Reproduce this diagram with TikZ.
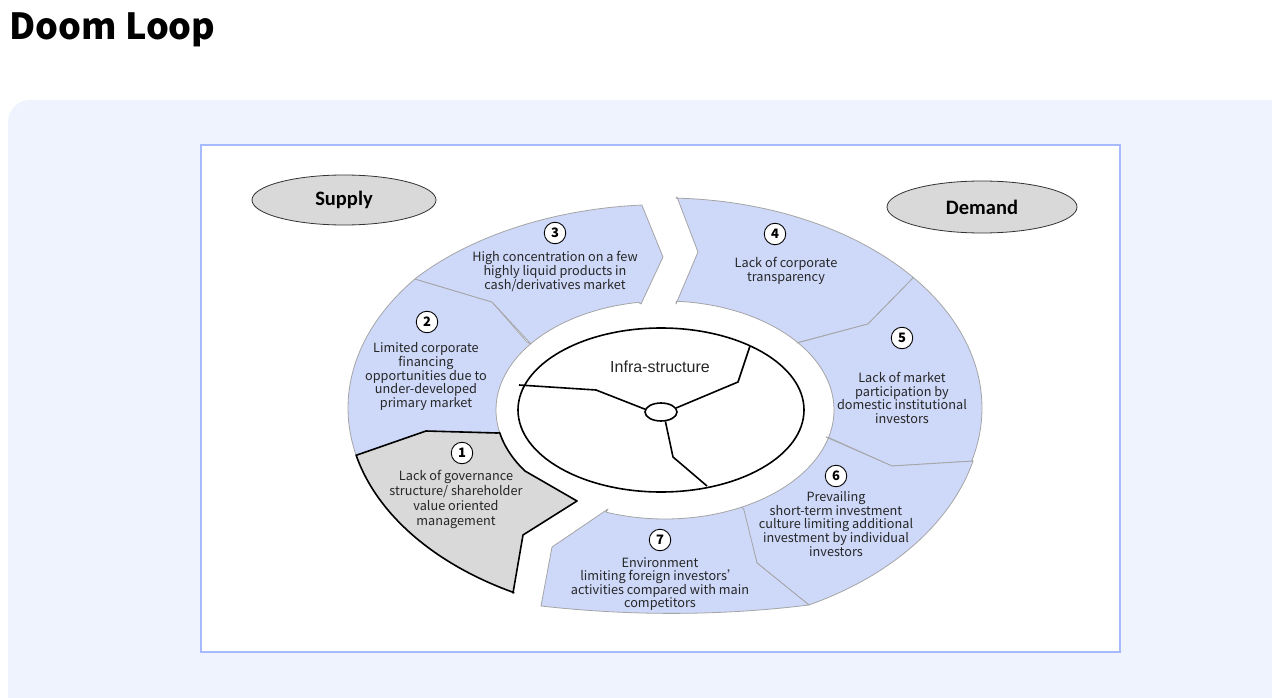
\documentclass[tikz,border=0pt]{standalone}
\usepackage{fontspec}
\setmainfont{Noto Sans CJK SC}
\newfontfamily\calf{Carlito}
\newfontfamily\arialf{Liberation Sans}
\usetikzlibrary{shapes.geometric}
\definecolor{panel}{RGB}{239,243,254}
\definecolor{boxline}{RGB}{168,186,255}
\definecolor{segblue}{RGB}{206,217,250}
\definecolor{seggray}{RGB}{217,217,217}
\definecolor{segline}{RGB}{165,165,165}
\tikzset{
  oarc/.style 2 args={insert path={-- plot[domain=#1:#2,samples=40] ({665+317*cos(\x)},{408+210*sin(\x)})}},
  oarcb/.style 2 args={insert path={-- plot[domain=#1:#2,samples=40] ({665+323.7*cos(\x)},{408+203.5*sin(\x)})}},
  oarcc/.style 2 args={insert path={-- plot[domain=#1:#2,samples=40] ({665+317.3*cos(\x)},{408+221*sin(\x)})}},
  iarc/.style 2 args={insert path={-- plot[domain=#1:#2,samples=40] ({665+169*cos(\x)},{410+109*sin(\x)})}}
}
\begin{document}
\begin{tikzpicture}[x=1pt,y=-1pt,
  seg/.style={fill=segblue, draw=segline, line width=0.8, line join=round},
  segone/.style={fill=seggray, draw=black, line width=1.6, line join=round},
  numc/.style={circle, draw=black, fill=white, line width=0.9, minimum size=21.5, inner sep=0, font=\fontsize{13}{13}\selectfont\bfseries},
  segtext/.style={align=center, inner sep=0, font=\fontsize{12.7}{13.6}\selectfont, text=black!85},
  sidelab/.style={ellipse, draw=black!80, fill=seggray, line width=0.8, inner sep=0, font=\calf\bfseries\fontsize{20.5}{20.5}\selectfont},
  spoke/.style={draw=black, line width=1.6, line join=round}]
\useasboundingbox (0,0) rectangle (1272,698);
\fill[white] (0,0) rectangle (1272,698);
% background panel
\fill[panel] (8,698) {[rounded corners=22] -- (8,100) -- (600,100)} -- (1272,100) -- (1272,698) -- cycle;
% white image box
\draw[boxline, line width=2, fill=white] (201,145) rectangle (1120,652);
% title
\node[anchor=base west, inner sep=0, font=\bfseries\fontsize{36}{36}\selectfont] (title) at (9,40) {Doom Loop};

% segment 2
\path[seg] (415,279) -- (492,302) -- (527,342) [iarc={217.4}{168}] -- (426,431) -- (357,455) [oarc={167}{217.9}] -- cycle;
% segment 3
\path[seg] (415,279) [oarcb={219.4}{265.9}] -- (663,257) -- (641,304) [iarc={261}{217.4}] -- (492,302) -- cycle;
% segment 4
\path[seg] (677,197) -- (698,252) -- (676,304) [iarc={273.8}{321.8}] -- (868,324) -- (913,278) [oarc={321.6}{272}] -- cycle;
% segment 5
\path[seg] (913,278) -- (868,324) -- (797,343) [iarc={-38.2}{14.6}] -- (892,466) -- (973,461) [oarc={14.5}{-38.4}] -- cycle;
% segment 6
\path[seg] (892,466) -- (826,437) [iarc={14.6}{63}] -- (757,563) -- (809,605) [oarcc={63}{13.9}] -- cycle;
% segment 7
\path[seg] (608,509) -- (552,547) -- (541,606) .. controls (630,616) and (720,616) .. (809,605) -- (757,563) -- (744,510) [iarc={63}{110.4}] -- cycle;
% segment 1
\path[segone] (357,455) -- (426,431) -- (497,433) [iarc={168}{146}] -- (577,501) -- (523,535) -- (513,593) [oarc={118.5}{167}] -- cycle;

% infrastructure
\node[ellipse, draw=black, line width=1.6, fill=white, minimum width=286, minimum height=164, inner sep=0] (infra) at (661,410) {};
\node[inner sep=0, font=\arialf\fontsize{16}{16}\selectfont, text=black!85] (infratext) at (660,367) {Infra-structure};
\coordinate (l1) at (596,390); \coordinate (l2) at (519,385);
\coordinate (u1) at (738,382); \coordinate (u2) at (750,346);
\coordinate (d1) at (673,457); \coordinate (d2) at (707,486);
\node[ellipse, draw=black, line width=1.6, fill=white, minimum width=32, minimum height=18, inner sep=0] (hub) at (661,412) {};
\draw[spoke] (hub.170) -- (l1) -- (l2);
\draw[spoke] (hub.15) -- (u1) -- (u2);
\draw[spoke] (hub.295) -- (d1) -- (d2);

% numbers
\node[numc] (n1) at (462,453) {1};
\node[numc] (n2) at (427,322) {2};
\node[numc] (n3) at (555,233) {3};
\node[numc] (n4) at (775,234) {4};
\node[numc] (n5) at (902,338) {5};
\node[numc] (n6) at (836,476) {6};
\node[numc] (n7) at (660,540) {7};

% texts
\node[segtext, font=\fontsize{12.7}{14.9}\selectfont] (t1) at (456,499.5) {Lack of governance\\structure/ shareholder\\value oriented\\management};
\node[segtext] (t2) at (426,376.5) {Limited corporate\\financing\\opportunities due to\\under-developed\\primary market};
\node[segtext] (t3) at (555,271.5) {High concentration on a few\\highly liquid products in\\cash/derivatives market};
\node[segtext] (t4) at (786,271) {Lack of corporate\\transparency};
\node[segtext] (t5) at (902,398) {Lack of market\\participation by\\domestic institutional\\investors};
\node[segtext] (t6) at (836,524) {Prevailing\\short-term investment\\culture limiting additional\\investment by individual\\investors};
\node[segtext] (t7) at (660,584) {Environment\\limiting foreign investors'\\activities compared with main\\competitors};

% supply / demand
\node[sidelab, minimum width=184, minimum height=50] (supply) at (344,200) {Supply};
\node[sidelab, minimum width=190, minimum height=52] (demand) at (982,207) {Demand};
\end{tikzpicture}
\end{document}
